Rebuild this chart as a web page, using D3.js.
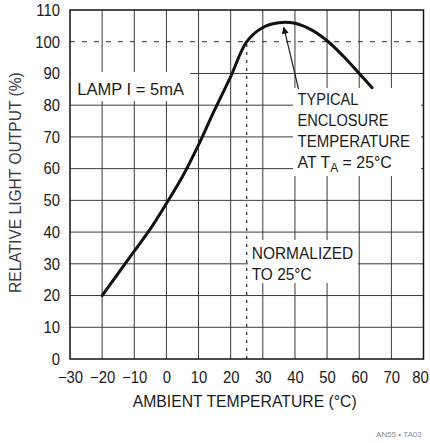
<!DOCTYPE html>
<html>
<head>
<meta charset="utf-8">
<script src="https://cdn.jsdelivr.net/npm/d3@7"></script>
<style>
  html, body { margin: 0; padding: 0; background: #fff; }
  svg { display: block; }
  text { font-family: "Liberation Sans", Arial, Helvetica, sans-serif; fill: #1a1a1a; }
</style>
</head>
<body>
<svg id="chart" width="430" height="443"></svg>
<script>
// ---- data ----
const temperatures = [-20, -15, -10, -5, 0, 5, 10, 15, 20, 25, 30, 35, 40, 45, 50, 55, 60, 64];
const lightOutput  = [20, 27, 34, 41, 49, 57.5, 67.5, 78.5, 89, 100, 104.5, 106, 105.8, 103.8, 100.3, 95.5, 90, 85.5];
const xTicks = [-30, -20, -10, 0, 10, 20, 30, 40, 50, 60, 70, 80];
const yTicks = [0, 10, 20, 30, 40, 50, 60, 70, 80, 90, 100, 110];
const normalizeTemp = 25;
const normalizeValue = 100;
const peakPoint = [37, 106.1];
const xTitle = "AMBIENT TEMPERATURE (°C)";
const yTitle = "RELATIVE LIGHT OUTPUT (%)";
const lampNote = "LAMP I = 5mA";
const normNote = ["NORMALIZED", "TO 25°C"];
const enclosureNote = ["TYPICAL", "ENCLOSURE", "TEMPERATURE"];
const figureId = "AN55 • TA02";

// ---- layout ----
const svg = d3.select("#chart");
const x = d3.scaleLinear().domain([-30, 80]).range([70, 423.5]);
const y = d3.scaleLinear().domain([0, 110]).range([359, 10]);
const [x0, x1] = x.range();
const [y0, y1] = y.range();

svg.append("rect").attr("width", 430).attr("height", 443).attr("fill", "#fff");

// text helper: draws text, then squeezes horizontally to target width
function fitText(parent, tx, ty, build, target, size, anchor) {
  const g = parent.append("g");
  const t = g.append("text").attr("font-size", size);
  build(t);
  const len = t.node().getComputedTextLength();
  const s = target / len;
  let ox = tx;
  if (anchor === "end") ox = tx - target;
  if (anchor === "middle") ox = tx - target / 2;
  g.attr("transform", `translate(${ox},${ty}) scale(${s},1)`);
  return g;
}

// ---- grid ----
const grid = svg.append("g");
grid.selectAll("line.v").data(xTicks.slice(1, -1)).join("line")
  .attr("x1", d => x(d)).attr("x2", d => x(d))
  .attr("y1", y0).attr("y2", y1)
  .attr("stroke", "#3a3a3a").attr("stroke-width", 1);
grid.selectAll("line.h").data(yTicks.slice(1, -1).filter(d => d !== normalizeValue)).join("line")
  .attr("x1", x0).attr("x2", x1)
  .attr("y1", d => y(d)).attr("y2", d => y(d))
  .attr("stroke", "#3a3a3a").attr("stroke-width", 1);

// dashed reference lines
svg.append("line")
  .attr("x1", x0).attr("x2", x1)
  .attr("y1", y(normalizeValue)).attr("y2", y(normalizeValue))
  .attr("stroke", "#2a2a2a").attr("stroke-width", 1)
  .attr("stroke-dasharray", "5,7");
svg.append("line")
  .attr("x1", x(normalizeTemp)).attr("x2", x(normalizeTemp))
  .attr("y1", y(0)).attr("y2", y(normalizeValue))
  .attr("stroke", "#2a2a2a").attr("stroke-width", 1.2)
  .attr("stroke-dasharray", "3,5");

// white boxes behind annotations
svg.append("rect").attr("x", 71).attr("y", 72).attr("width", 119).attr("height", 29).attr("fill", "#fff");
svg.append("rect").attr("x", 293).attr("y", 88).attr("width", 128).attr("height", 88).attr("fill", "#fff");
svg.append("rect").attr("x", 248).attr("y", 240).attr("width", 110).attr("height", 43).attr("fill", "#fff");

// frame
svg.append("rect")
  .attr("x", x0).attr("y", y1).attr("width", x1 - x0).attr("height", y0 - y1)
  .attr("fill", "none").attr("stroke", "#111").attr("stroke-width", 1.5);

// ---- axes labels ----
const yAxis = svg.append("g").attr("transform", `translate(${x0},0)`)
  .call(d3.axisLeft(y).tickValues(yTicks).tickSize(0).tickPadding(10));
yAxis.select(".domain").remove();
yAxis.selectAll("text")
  .attr("font-size", 16.5)
  .attr("x", -10 / 0.9).attr("transform", "scale(0.9,1)");
yAxis.attr("font-family", null).attr("font-size", null);

const xAxis = svg.append("g").attr("transform", `translate(0,${y0})`)
  .call(d3.axisBottom(x).tickValues(xTicks).tickSize(0).tickPadding(12.5));
xAxis.select(".domain").remove();
xAxis.selectAll("text")
  .attr("font-size", 16.5).attr("transform", "scale(0.9,1)")
  .attr("x", d => d === xTicks[xTicks.length - 1] ? -3.5 / 0.9 : 0);
xAxis.attr("font-family", null).attr("font-size", null);

// axis titles
fitText(svg, 132.7, 407, t => t.text(xTitle), 224, 17);
const yt = svg.append("g").attr("transform", `translate(20.5,${(72 + 293) / 2}) rotate(-90)`);
fitText(yt, 0, 0, t => t.text(yTitle).style("fill", "#3c3c3c"), 221, 17, "middle");

// ---- curve ----
const line = d3.line()
  .x((d, i) => x(temperatures[i]))
  .y(d => y(d))
  .curve(d3.curveCatmullRom.alpha(0.5));
svg.append("path")
  .datum(lightOutput)
  .attr("d", line)
  .attr("fill", "none")
  .attr("stroke", "#111")
  .attr("stroke-width", 3)
  .attr("stroke-linecap", "round");

// ---- annotations ----
fitText(svg, 77.3, 95, t => t.text(lampNote), 106.7, 16.5);

fitText(svg, 251.7, 259.3, t => t.text(normNote[0]), 101.6, 16.5);
fitText(svg, 251.7, 280, t => t.text(normNote[1]), 60, 16.5);

const encBase = [104.5, 126, 147];
const encW = [61, 91, 112.7];
enclosureNote.forEach((s, i) => fitText(svg, 297.5, encBase[i], t => t.text(s), encW[i], 16.5));
fitText(svg, 297.5, 168, t => {
  t.append("tspan").text("AT T");
  t.append("tspan").attr("dy", 4).attr("font-size", 12.5).text("A");
  t.append("tspan").attr("dy", -4).text(" = 25°C");
}, 94.4, 16.5);

// arrow
svg.append("defs").append("marker")
  .attr("id", "ah").attr("viewBox", "0 0 10 10").attr("refX", 9).attr("refY", 5)
  .attr("markerWidth", 9).attr("markerHeight", 7).attr("markerUnits", "userSpaceOnUse")
  .attr("orient", "auto")
  .append("path").attr("d", "M0,0 L10,5 L0,10 z").attr("fill", "#111");
svg.append("line")
  .attr("x1", 298.5).attr("y1", 89)
  .attr("x2", x(peakPoint[0]) - 1.5).attr("y2", y(peakPoint[1]) + 5)
  .attr("stroke", "#222").attr("stroke-width", 1.2)
  .attr("marker-end", "url(#ah)");

// figure id
svg.append("text").attr("x", 421.7).attr("y", 437).attr("text-anchor", "end")
  .attr("font-size", 8).style("fill", "#8a8a8a").text(figureId);
</script>
</body>
</html>
